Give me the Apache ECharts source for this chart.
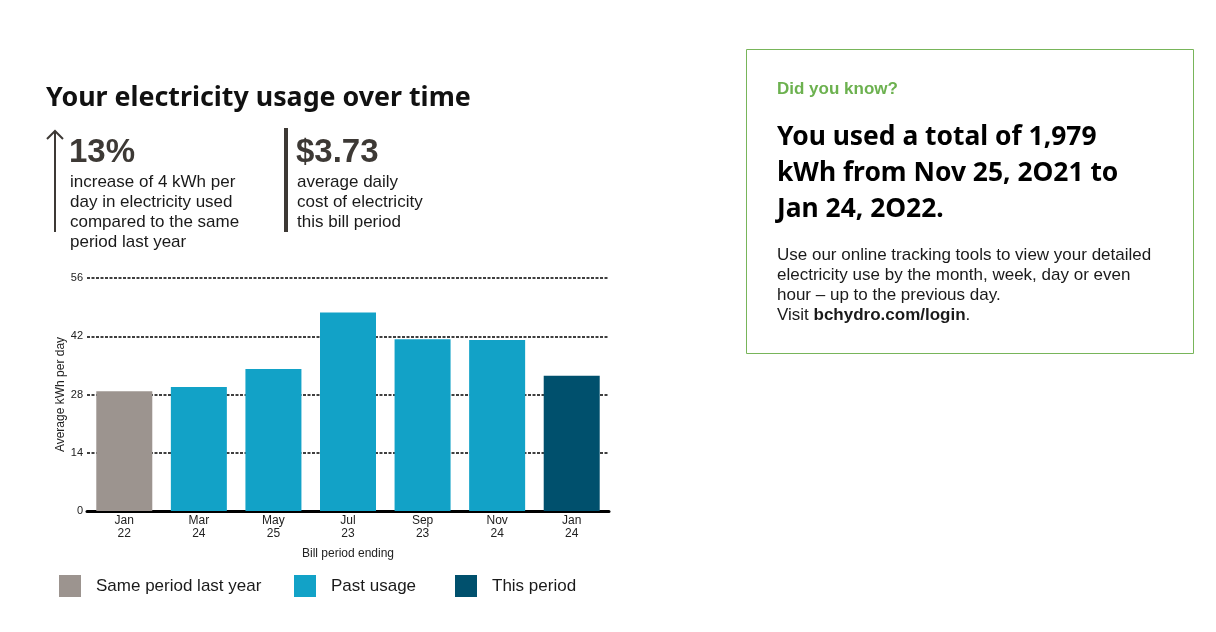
<!DOCTYPE html>
<html>
<head>
<meta charset="utf-8">
<script src="https://cdn.jsdelivr.net/npm/echarts@6/dist/echarts.min.js"></script>
<style>
  html, body { margin: 0; padding: 0; background: #fff; }
  #main { width: 1216px; height: 632px; }
</style>
</head>
<body>
<div id="main"></div>
<script>
// data
var months = ['Jan\n22', 'Mar\n24', 'May\n25', 'Jul\n23', 'Sep\n23', 'Nov\n24', 'Jan\n24'];
var usage = [28.8, 29.8, 34.1, 47.7, 41.3, 41.1, 32.5];
var periodType = ['last', 'past', 'past', 'past', 'past', 'past', 'this'];
var yTicks = [0, 14, 28, 42, 56];

var groups = [
  { key: 'last', name: 'Same period last year', color: '#9c948f' },
  { key: 'past', name: 'Past usage', color: '#12a2c7' },
  { key: 'this', name: 'This period', color: '#00506d' }
];

var chart = echarts.init(document.getElementById('main'));

// one series per period type, stacked so they share a slot
var series = groups.map(function (g) {
  return {
    name: g.name,
    type: 'bar',
    stack: 'use',
    barWidth: 56,
    itemStyle: { color: g.color },
    data: usage.map(function (v, i) { return periodType[i] == g.key ? v : '-'; })
  };
});

var bodyFont = '"Liberation Sans", Arial, sans-serif';
var headFont = '"Noto Sans", sans-serif';
var dark = '#3d3935';

function txt(x, y, text, font, fill, lh) {
  var s = { text: text, font: font, fill: fill || '#1a1a1a' };
  if (lh) s.lineHeight = lh;
  return { type: 'text', left: x, top: y, style: s };
}

var graphic = [
  txt(46, 85, 'Your electricity usage over time', 'bold 26.8px ' + headFont, '#111'),
  // arrow
  { type: 'line', shape: { x1: 55, y1: 131, x2: 55, y2: 232 }, style: { stroke: dark, lineWidth: 2 } },
  { type: 'polyline', shape: { points: [[47, 139], [55, 131], [63, 139]] }, style: { stroke: dark, lineWidth: 2, fill: null } },
  txt(69, 136, '13%', 'bold 33px ' + bodyFont, dark),
  txt(70, 172, 'increase of 4 kWh per\nday in electricity used\ncompared to the same\nperiod last year', '17px ' + bodyFont, '#1a1a1a', 20),
  // divider
  { type: 'rect', shape: { x: 284, y: 128, width: 4, height: 104 }, style: { fill: dark } },
  txt(296, 136, '$3.73', 'bold 33px ' + bodyFont, dark),
  txt(297, 172, 'average daily\ncost of electricity\nthis bill period', '17px ' + bodyFont, '#1a1a1a', 20),
  // did you know box
  { type: 'rect', shape: { x: 746.5, y: 49.5, width: 447, height: 304 }, style: { fill: 'none', stroke: '#78b55a', lineWidth: 1 } },
  txt(777, 81, 'Did you know?', 'bold 17px ' + bodyFont, '#6cb14f'),
  txt(777, 119, 'You used a total of 1,979\nkWh from Nov 25, 2O21 to\nJan 24, 2O22.', 'bold 26.4px ' + headFont, '#000', 36),
  {
    type: 'text', left: 777, top: 245,
    style: {
      text: 'Use our online tracking tools to view your detailed\nelectricity use by the month, week, day or even\nhour \u2013 up to the previous day.\nVisit {b|bchydro.com/login}.',
      font: '17px ' + bodyFont, fill: '#1a1a1a', lineHeight: 20,
      rich: { b: { fontWeight: 'bold', fontSize: 17, fontFamily: bodyFont, lineHeight: 20 } }
    }
  }
];

var legends = groups.map(function (g, i) {
  return {
    data: [g.name],
    left: [54, 289, 450][i],
    top: 570,
    icon: 'rect',
    itemWidth: 22,
    itemHeight: 22,
    selectedMode: false,
    textStyle: { fontSize: 17, fontFamily: bodyFont, color: '#1a1a1a', padding: [0, 0, 0, 10] }
  };
});

var option = {
  animation: false,
  graphic: graphic,
  legend: legends,
  grid: { left: 87, right: 607, top: 278, bottom: 121, containLabel: false },
  xAxis: {
    type: 'category',
    data: months,
    name: 'Bill period ending',
    nameLocation: 'middle',
    nameGap: 37,
    nameTextStyle: { fontSize: 12, fontFamily: bodyFont, color: '#222' },
    axisLine: { lineStyle: { color: '#000', width: 3 } },
    axisTick: { show: false },
    axisLabel: { fontSize: 12, fontFamily: bodyFont, color: '#222', lineHeight: 13, margin: 3 }
  },
  yAxis: {
    type: 'value',
    min: yTicks[0],
    max: yTicks[yTicks.length - 1],
    interval: 14,
    name: 'Average kWh per day',
    nameLocation: 'middle',
    nameGap: 20,
    nameTextStyle: { fontSize: 12, fontFamily: bodyFont, color: '#222' },
    axisLine: { show: false },
    axisTick: { show: false },
    axisLabel: { fontSize: 11, fontFamily: bodyFont, color: '#222', margin: 4 },
    splitLine: { lineStyle: { color: '#000', width: 1.5, type: [3, 1.5] } }
  },
  series: series
};

chart.setOption(option);
</script>
</body>
</html>
